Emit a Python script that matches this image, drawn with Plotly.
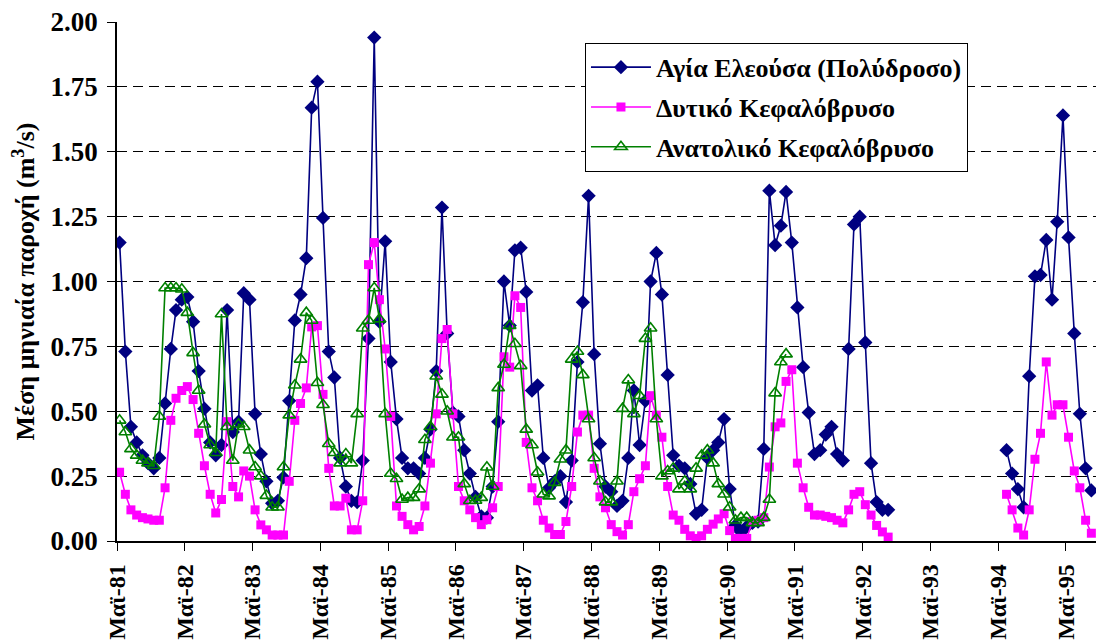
import plotly.graph_objects as go
import pandas as pd

# Monthly dates: May 1981 .. Sep 1995 (plotted mid-month)
months = [d + pd.Timedelta(days=14) for d in pd.date_range("1981-05-01", "1995-09-01", freq="MS")]

agia_eleousa = [
    1.15, 0.73, 0.44, 0.38, 0.33, 0.30, 0.28, 0.32, 0.53, 0.74, 0.89, 0.93,   # 81-82
    0.94, 0.845, 0.655, 0.51, 0.38, 0.33, 0.37, 0.89, 0.42, 0.46, 0.955, 0.93,  # 82-83
    0.49, 0.335, 0.23, 0.145, 0.155, 0.245, 0.54, 0.85, 0.95, 1.09, 1.67, 1.77, # 83-84
    1.245, 0.73, 0.63, 0.32, 0.21, 0.155, 0.15, 0.31, 0.78, 1.94, 0.845, 1.155, # 84-85
    0.69, 0.47, 0.32, 0.28, 0.28, 0.26, 0.32, 0.43, 0.655, 1.285, 0.80, 0.495,  # 85-86
    0.48, 0.35, 0.26, 0.17, 0.095, 0.09, 0.21, 0.46, 1.00, 0.83, 1.12, 1.13,    # 86-87
    0.96, 0.58, 0.60, 0.32, 0.205, 0.23, 0.25, 0.15, 0.31, 0.69, 0.92, 1.33,    # 87-88
    0.72, 0.375, 0.21, 0.19, 0.135, 0.155, 0.32, 0.58, 0.37, 0.54, 1.00, 1.11,  # 88-89
    0.95, 0.64, 0.33, 0.29, 0.28, 0.22, 0.105, 0.12, 0.32, 0.35, 0.38, 0.47,    # 89-90
    0.20, 0.06, 0.035, 0.055, 0.07, 0.075, 0.355, 1.35, 1.14, 1.215, 1.345, 1.15, # 90-91
    0.90, 0.67, 0.495, 0.335, 0.35, 0.41, 0.44, 0.335, 0.31, 0.74, 1.22, 1.25,  # 91-92
    0.765, 0.30, 0.15, 0.12, 0.12, None, None, None, None, None, None, None,    # 92-93
    None, None, None, None, None, None, None, None, None, None, None, None,     # 93-94
    None, 0.35, 0.26, 0.20, 0.13, 0.635, 1.02, 1.025, 1.16, 0.93, 1.23, 1.64,   # 94-95
    1.17, 0.80, 0.49, 0.28, 0.195,                                              # 95
]

dytiko = [
    0.265, 0.18, 0.12, 0.10, 0.09, 0.085, 0.08, 0.08, 0.205, 0.465, 0.55, 0.58,
    0.595, 0.545, 0.415, 0.29, 0.18, 0.108, 0.16, 0.46, 0.21, 0.17, 0.27, 0.25,
    0.12, 0.062, 0.043, 0.023, 0.023, 0.023, 0.23, 0.465, 0.53, 0.59, 0.825, 0.83,
    0.565, 0.28, 0.135, 0.135, 0.165, 0.043, 0.043, 0.155, 1.065, 1.15, 0.93, 0.74,
    0.48, 0.135, 0.095, 0.063, 0.043, 0.056, 0.135, 0.30, 0.49, 0.78, 0.815, 0.49,
    0.21, 0.155, 0.12, 0.09, 0.063, 0.082, 0.128, 0.21, 0.71, 0.67, 0.945, 0.90,
    0.38, 0.205, 0.155, 0.08, 0.05, 0.025, 0.025, 0.075, 0.21, 0.42, 0.485, 0.485,
    0.28, 0.17, 0.128, 0.063, 0.036, 0.023, 0.063, 0.19, 0.24, 0.29, 0.56, 0.485,
    0.40, 0.21, 0.10, 0.08, 0.045, 0.02, 0.01, 0.02, 0.045, 0.065, 0.085, 0.105,
    0.04, 0.01, 0.01, 0.01, 0.075, 0.08, 0.09, 0.285, 0.44, 0.455, 0.615, 0.66,
    0.30, 0.205, 0.13, 0.10, 0.10, 0.095, 0.09, 0.08, 0.07, 0.12, 0.18, 0.19,
    0.14, 0.10, 0.06, 0.035, 0.015, None, None, None, None, None, None, None,
    None, None, None, None, None, None, None, None, None, None, None, None,
    None, 0.18, 0.12, 0.05, 0.023, 0.12, 0.315, 0.415, 0.69, 0.485, 0.525, 0.525,
    0.40, 0.27, 0.205, 0.08, 0.03,
]

anatoliko = [
    0.465, 0.42, 0.355, 0.33, 0.31, 0.30, 0.29, 0.48, 0.975, 0.975, 0.975, 0.97,
    0.88, 0.725, 0.58, 0.45, 0.37, 0.34, 0.875, 0.44, 0.31, 0.45, 0.44, 0.35,
    0.285, 0.25, 0.175, 0.13, 0.13, 0.285, 0.485, 0.60, 0.70, 0.88, 0.85, 0.61,
    0.525, 0.375, 0.34, 0.30, 0.335, 0.30, 0.49, 0.82, 0.85, 0.975, 0.855, 0.49,
    0.26, 0.24, 0.16, 0.167, 0.167, 0.20, 0.39, 0.44, 0.635, 0.565, 0.50, 0.40,
    0.40, 0.22, 0.155, 0.156, 0.167, 0.284, 0.21, 0.59, 0.68, 0.83, 0.76, 0.675,
    0.43, 0.37, 0.265, 0.18, 0.173, 0.225, 0.315, 0.35, 0.70, 0.73, 0.64, 0.47,
    0.32, 0.23, 0.15, 0.15, 0.23, 0.51, 0.62, 0.49, 0.56, 0.78, 0.82, 0.47,
    0.25, 0.27, 0.28, 0.20, 0.23, 0.20, 0.28, 0.33, 0.35, 0.30, 0.22, 0.18,
    0.13, 0.08, 0.09, 0.09, 0.07, 0.07, 0.09, 0.16, 0.57, 0.69, 0.72,
]

y_ticks = [0, 0.25, 0.5, 0.75, 1.0, 1.25, 1.5, 1.75, 2.0]
y_labels = ["0.00", "0.25", "0.50", "0.75", "1.00", "1.25", "1.50", "1.75", "2.00"]
tick_dates = [f"{y}-05-01" for y in range(1981, 1996)]
tick_labels = ["Μαϊ-81", "Μαϊ-82", "Μαϊ-83", "Μαϊ-84", "Μαϊ-85", "Μαϊ-86", "Μαϊ-87",
               "Μαϊ-88", "Μαϊ-89", "Μαϊ-90", "Μαϊ-91", "Μαϊ-92", "Μαϊ-93", "Μαϊ-94", "Μαϊ-95"]
series_names = ["Αγία Ελεούσα (Πολύδροσο)", "Δυτικό Κεφαλόβρυσο", "Ανατολικό Κεφαλόβρυσο"]

FONT = "Liberation Serif"

def bold(s):
    return f"<b>{s}</b>"

fig = go.Figure()
fig.add_trace(go.Scatter(
    x=months[:len(agia_eleousa)], y=agia_eleousa, mode="lines+markers",
    name=bold(series_names[0]), legendgroup="a",
    line=dict(color="#000080", width=1.6),
    marker=dict(symbol="diamond", size=11, color="#000080"),
))
fig.add_trace(go.Scatter(
    x=months[:len(dytiko)], y=dytiko, mode="lines+markers",
    name=bold(series_names[1]), legendgroup="b",
    line=dict(color="#FF00FF", width=1.6),
    marker=dict(symbol="square", size=9, color="#FF00FF"),
))
fig.add_trace(go.Scatter(
    x=months[:len(anatoliko)], y=anatoliko, mode="lines+markers",
    name=bold(series_names[2]), legendgroup="c",
    line=dict(color="#008000", width=1.6),
    marker=dict(symbol="triangle-up-open", size=11, color="#008000", line=dict(width=1.6)),
))

fig.update_layout(
    width=1096, height=642,
    margin=dict(l=117, r=0, t=22, b=101, autoexpand=False),
    plot_bgcolor="white", paper_bgcolor="white",
    font=dict(family=FONT, color="black"),
    legend=dict(
        x=0.478, y=0.96, xanchor="left", yanchor="top",
        bordercolor="black", borderwidth=1, bgcolor="white",
        font=dict(family=FONT, size=26, color="black"),
        itemwidth=60, tracegroupgap=3,
    ),
)
fig.update_xaxes(
    type="date", range=["1981-05-01", "1995-10-10"], automargin=False,
    tickmode="array", tickvals=tick_dates, ticktext=[bold(t) for t in tick_labels],
    tickangle=-90, ticklabelstandoff=4,
    ticks="outside", ticklen=8, tickcolor="black",
    showline=True, linecolor="black", linewidth=1.5,
    showgrid=False, zeroline=False,
    tickfont=dict(family=FONT, size=24, color="black"),
)
fig.update_yaxes(
    range=[0, 2], automargin=False,
    tickmode="array", tickvals=y_ticks, ticktext=[bold(t) for t in y_labels],
    ticks="outside", ticklen=8, tickcolor="black", ticklabelstandoff=4,
    showline=True, linecolor="black", linewidth=1.5,
    showgrid=True, gridcolor="black", gridwidth=1, griddash="10px,6px",
    zeroline=False,
    tickfont=dict(family=FONT, size=27, color="black"),
    title=dict(text=bold("Μέση μηνιαία παροχή (m<sup>3</sup>/s)"),
               font=dict(family=FONT, size=26, color="black"),
               standoff=8),
)

fig.write_html("out.html")
